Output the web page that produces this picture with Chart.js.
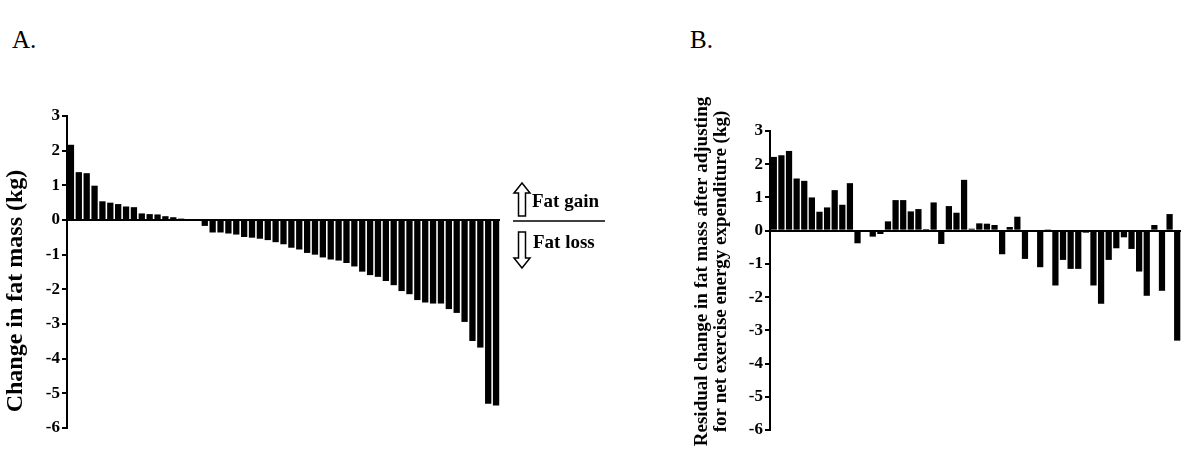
<!DOCTYPE html>
<html>
<head>
<meta charset="utf-8">
<script src="https://cdn.jsdelivr.net/npm/chart.js@4.4.1/dist/chart.umd.min.js"></script>
<style>
  body { margin: 0; background: #fff; width: 1181px; height: 454px; overflow: hidden; position: relative; font-family: "Liberation Serif", "Times New Roman", serif; }
  .panel-label { position: absolute; font-size: 25px; line-height: 1; color: #000; }
  #wrapA { position: absolute; left: 0; top: 0; width: 640px; height: 454px; }
  #wrapB { position: absolute; left: 680px; top: 0; width: 501px; height: 454px; }
</style>
</head>
<body>
<div class="panel-label" style="left:12px; top:27px;">A.</div>
<div class="panel-label" style="left:690px; top:27px;">B.</div>
<div id="wrapA"><canvas id="chartA" width="640" height="454"></canvas></div>
<div id="wrapB"><canvas id="chartB" width="501" height="454"></canvas></div>
<script>
// change in fat mass per subject, sorted (kg)
const fatChange = [
    2.17, 1.38, 1.35, 0.99, 0.54, 0.50, 0.46, 0.39, 0.37, 0.19, 0.17, 0.16, 0.11, 0.08, 0.04,
    0, 0,
    -0.17, -0.36, -0.36, -0.39, -0.42, -0.49, -0.51, -0.54, -0.58, -0.64, -0.70, -0.80,
    -0.85, -0.95, -1.00, -1.08, -1.14, -1.17, -1.24, -1.34, -1.49, -1.59, -1.64, -1.76, -1.88, -2.05,
    -2.14, -2.31, -2.38, -2.41, -2.41, -2.57, -2.68, -2.94, -3.49, -3.68, -5.30, -5.35
];

// residual change after adjusting for net exercise energy expenditure (kg)
const residualChange = [
    2.22, 2.27, 2.40, 1.57, 1.50, 1.00, 0.57, 0.70, 1.22, 0.78, 1.43, -0.38, 0, -0.18, -0.10,
    0.28, 0.92, 0.92, 0.58, 0.65, 0.05, 0.85, -0.40, 0.74, 0.54, 1.53, 0.06, 0.22, 0.21, 0.17,
    -0.71, 0.11, 0.42, -0.85, 0, -1.10, 0.04, -1.65, -0.88, -1.15, -1.15, -0.06, -1.65, -2.20,
    -0.88, -0.53, -0.20, -0.55, -1.23, -1.96, 0.17, -1.81, 0.50, -3.31
];

const subjectsA = fatChange.map((v, i) => 'S' + (i + 1));
const subjectsB = residualChange.map((v, i) => 'S' + (i + 1));

const yMin = -6;
const yMax = 3;

const titleA = ['Change in fat mass (kg)'];
const titleB = ['Residual change in fat mass after adjusting', 'for net exercise energy expenditure (kg)'];
const gainLabel = 'Fat gain';
const lossLabel = 'Fat loss';

const serif = '"Liberation Serif", "Times New Roman", serif';

/*------------------rotated y axis title------------------------*/
const axisTitle = {
    id: 'axisTitle',
    afterDraw(chart, args, opts) {
        const { ctx, chartArea } = chart;
        const midY = (chartArea.top + chartArea.bottom) / 2 + opts.dy;
        ctx.save();
        ctx.font = opts.font;
        ctx.fillStyle = '#000';
        ctx.textAlign = 'center';
        ctx.textBaseline = 'middle';
        opts.lines.forEach((line, i) => {
            ctx.save();
            ctx.translate(opts.x + i * opts.gap, midY);
            ctx.rotate(-Math.PI / 2);
            ctx.fillText(line, 0, 0);
            ctx.restore();
        });
        ctx.restore();
    }
};

/*------------------fat gain / fat loss key------------------------*/
function hollowArrow(ctx, cx, tip, tail) {
    const dir = tail > tip ? 1 : -1;
    const head = 10 * dir;
    ctx.beginPath();
    ctx.moveTo(cx - 3.5, tail);
    ctx.lineTo(cx - 3.5, tip + head);
    ctx.lineTo(cx - 8, tip + head);
    ctx.lineTo(cx, tip);
    ctx.lineTo(cx + 8, tip + head);
    ctx.lineTo(cx + 3.5, tip + head);
    ctx.lineTo(cx + 3.5, tail);
    ctx.closePath();
    ctx.fillStyle = '#fff';
    ctx.fill();
    ctx.stroke();
}

const fatKey = {
    id: 'fatKey',
    afterDraw(chart) {
        const { ctx, chartArea, scales } = chart;
        const zy = scales.y.getPixelForValue(0) + 1;
        const x0 = chartArea.right;
        ctx.save();
        ctx.strokeStyle = '#000';
        ctx.lineWidth = 1.5;
        ctx.beginPath();
        ctx.moveTo(x0 + 13, zy);
        ctx.lineTo(x0 + 105, zy);
        ctx.stroke();
        hollowArrow(ctx, x0 + 22, zy - 38, zy - 5);
        hollowArrow(ctx, x0 + 22, zy + 47, zy + 11);
        ctx.fillStyle = '#000';
        ctx.font = 'bold 19px ' + serif;
        ctx.textBaseline = 'middle';
        ctx.fillText(gainLabel, x0 + 32, zy - 19);
        ctx.fillText(lossLabel, x0 + 33, zy + 22);
        ctx.restore();
    }
};

function yAxis(width) {
    return {
        min: yMin,
        max: yMax,
        afterFit: scale => { scale.width = width; },
        ticks: {
            stepSize: 1,
            color: '#000',
            padding: 2,
            font: { family: serif, size: 17, weight: 'bold' }
        },
        grid: {
            drawOnChartArea: true,
            color: c => (c.tick && c.tick.value === 0 ? '#000' : 'rgba(0,0,0,0)'),
            tickColor: '#000',
            tickLength: 5,
            lineWidth: 2
        },
        border: { color: '#000', width: 2 }
    };
}

// Create panel A
new Chart(document.getElementById('chartA').getContext('2d'), {
    type: 'bar',
    data: {
        labels: subjectsA,
        datasets: [{
            data: fatChange,
            backgroundColor: '#000',
            barPercentage: 0.8,
            categoryPercentage: 1
        }]
    },
    options: {
        responsive: false,
        animation: false,
        layout: { padding: { left: 0, right: 140, top: 116, bottom: 26 } },
        plugins: {
            legend: { display: false },
            tooltip: { enabled: false },
            axisTitle: { lines: titleA, x: 16, gap: 0, dy: 19, font: 'bold 24px ' + serif }
        },
        scales: {
            x: { display: false },
            y: yAxis(67)
        }
    },
    plugins: [axisTitle, fatKey]
});

// Create panel B
new Chart(document.getElementById('chartB').getContext('2d'), {
    type: 'bar',
    data: {
        labels: subjectsB,
        datasets: [{
            data: residualChange,
            backgroundColor: '#000',
            barPercentage: 0.82,
            categoryPercentage: 1
        }]
    },
    options: {
        responsive: false,
        animation: false,
        layout: { padding: { left: 0, right: 0, top: 131, bottom: 24 } },
        plugins: {
            legend: { display: false },
            tooltip: { enabled: false },
            axisTitle: { lines: titleB, x: 22, gap: 19, dy: -9, font: 'bold 19px ' + serif }
        },
        scales: {
            x: { display: false },
            y: yAxis(90)
        }
    },
    plugins: [axisTitle]
});
</script>
</body>
</html>
